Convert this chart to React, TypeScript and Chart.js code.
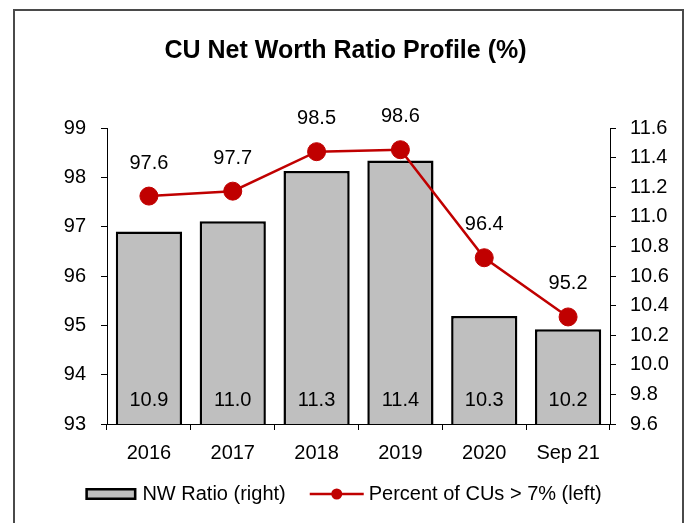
import React, { useEffect, useRef } from 'react';
import { Chart, registerables } from 'chart.js';

Chart.register(...registerables);

// ---- data ----
const categories = ['2016', '2017', '2018', '2019', '2020', 'Sep 21'];
const nwRatio = [10.9, 10.97, 11.31, 11.38, 10.33, 10.24]; // right axis (bars)
const pctAbove7 = [97.62, 97.72, 98.52, 98.56, 96.37, 95.17]; // left axis (line)
const seriesNames = ['NW Ratio (right)', 'Percent of CUs > 7% (left)'];
const chartTitle = 'CU Net Worth Ratio Profile (%)';
const leftMin = 93;
const leftMax = 99;
const leftStep = 1;
const rightMin = 9.6;
const rightMax = 11.6;
const rightStep = 0.2;

// ---- styles ----
const FONT = '"Liberation Sans", Arial, sans-serif';
const BAR_FILL = '#bfbfbf';
const RED = '#c00000';

const framePlugin = {
  id: 'frame',
  beforeDraw(chart: any) {
    const { ctx, width, height } = chart;
    ctx.save();
    ctx.fillStyle = '#ffffff';
    ctx.fillRect(0, 0, width, height);
    ctx.strokeStyle = '#4a4a4a';
    ctx.lineWidth = 2;
    ctx.strokeRect(14, 10, 669, height + 20);
    ctx.restore();
  },
};

const labelPlugin = {
  id: 'valueLabels',
  afterDatasetsDraw(chart: any) {
    const { ctx } = chart;
    ctx.save();
    ctx.font = `20px ${FONT}`;
    ctx.fillStyle = '#000';
    ctx.textAlign = 'center';
    ctx.textBaseline = 'middle';
    chart.data.datasets.forEach((ds: any, di: number) => {
      const meta = chart.getDatasetMeta(di);
      meta.data.forEach((el: any, i: number) => {
        const v = Number(ds.data[i]).toFixed(1);
        if (ds.type === 'bar') {
          const base = chart.scales.y1.getPixelForValue(rightMin);
          ctx.fillText(v, el.x, base - 24);
        } else {
          ctx.fillText(v, el.x, el.y - 33);
        }
      });
    });
    ctx.restore();
  },
};

const legendPlugin = {
  id: 'customLegend',
  afterDraw(chart: any) {
    const { ctx } = chart;
    ctx.save();
    ctx.font = `20px ${FONT}`;
    const w1 = ctx.measureText(seriesNames[0]).width;
    const w2 = ctx.measureText(seriesNames[1]).width;
    const boxW = 51;
    const lineW = 54;
    const total = boxW + 6 + w1 + 24 + lineW + 5 + w2;
    let x = chart.width / 2 - 2 - total / 2;
    const y = 494;
    // bar swatch
    ctx.fillStyle = BAR_FILL;
    ctx.fillRect(x, y - 6, boxW, 12);
    ctx.strokeStyle = '#000';
    ctx.lineWidth = 2.5;
    ctx.strokeRect(x + 1.25, y - 4.75, boxW - 2.5, 9.5);
    ctx.fillStyle = '#000';
    ctx.textAlign = 'left';
    ctx.textBaseline = 'middle';
    ctx.fillText(seriesNames[0], x + boxW + 6, y);
    x = x + boxW + 6 + w1 + 24;
    // line swatch
    ctx.strokeStyle = RED;
    ctx.lineWidth = 2.5;
    ctx.beginPath();
    ctx.moveTo(x, y);
    ctx.lineTo(x + lineW, y);
    ctx.stroke();
    ctx.fillStyle = RED;
    ctx.beginPath();
    ctx.arc(x + lineW / 2, y, 5.5, 0, Math.PI * 2);
    ctx.fill();
    ctx.fillStyle = '#000';
    ctx.fillText(seriesNames[1], x + lineW + 5, y);
    ctx.restore();
  },
};

export default function App() {
  const canvasRef = useRef<HTMLCanvasElement | null>(null);

  useEffect(() => {
    if (!canvasRef.current) return;
    const tickFont = { family: FONT, size: 20 };
    const chart = new Chart(canvasRef.current, {
      type: 'bar',
      data: {
        labels: categories,
        datasets: [
          {
            type: 'line',
            label: seriesNames[1],
            data: pctAbove7,
            yAxisID: 'y',
            borderColor: RED,
            backgroundColor: RED,
            borderWidth: 2.5,
            pointRadius: 9,
            pointBorderWidth: 1,
            pointBackgroundColor: RED,
            pointBorderColor: RED,
            tension: 0,
            order: 1,
          } as any,
          {
            type: 'bar',
            label: seriesNames[0],
            data: nwRatio,
            yAxisID: 'y1',
            backgroundColor: BAR_FILL,
            borderColor: '#000',
            borderWidth: 2.5,
            borderSkipped: false,
            barPercentage: 0.79,
            categoryPercentage: 1,
            order: 2,
          } as any,
        ],
      },
      options: {
        responsive: false,
        devicePixelRatio: 1,
        animation: false,
        layout: { padding: { left: 0, right: 0, top: 0, bottom: 47 } },
        plugins: {
          legend: { display: false },
          tooltip: { enabled: false },
          title: {
            display: true,
            text: chartTitle,
            color: '#000',
            font: { family: FONT, size: 25, weight: 'bold' },
            padding: { top: 36, bottom: 62 },
          },
        },
        scales: {
          x: {
            offset: true,
            grid: {
              offset: true,
              drawOnChartArea: false,
              drawTicks: true,
              tickLength: 6,
              color: '#000',
              lineWidth: 1,
            },
            border: { display: true, color: '#000', width: 1 },
            ticks: { font: tickFont, color: '#000', padding: 11, maxRotation: 0, autoSkip: false },
          },
          y: {
            position: 'left',
            min: leftMin,
            max: leftMax,
            ticks: { stepSize: leftStep, font: tickFont, color: '#000', padding: 15 },
            grid: { drawOnChartArea: false, drawTicks: true, tickLength: 6, color: '#000' },
            border: { display: true, color: '#000', width: 1 },
            afterFit: (s: any) => {
              s.width = 107;
            },
          },
          y1: {
            position: 'right',
            min: rightMin,
            max: rightMax,
            ticks: {
              stepSize: rightStep,
              font: tickFont,
              color: '#000',
              padding: 14,
              callback: (v: any) => Number(v).toFixed(1),
            },
            grid: { drawOnChartArea: false, drawTicks: true, tickLength: 6, color: '#000' },
            border: { display: true, color: '#000', width: 1 },
            afterFit: (s: any) => {
              s.width = 81;
            },
          },
        },
      } as any,
      plugins: [framePlugin, labelPlugin, legendPlugin],
    });
    return () => chart.destroy();
  }, []);

  return (
    <div style={{ position: 'absolute', left: 0, top: 0, width: 691, height: 523 }}>
      <canvas ref={canvasRef} width={691} height={523} style={{ display: 'block', width: 691, height: 523 }} />
    </div>
  );
}
